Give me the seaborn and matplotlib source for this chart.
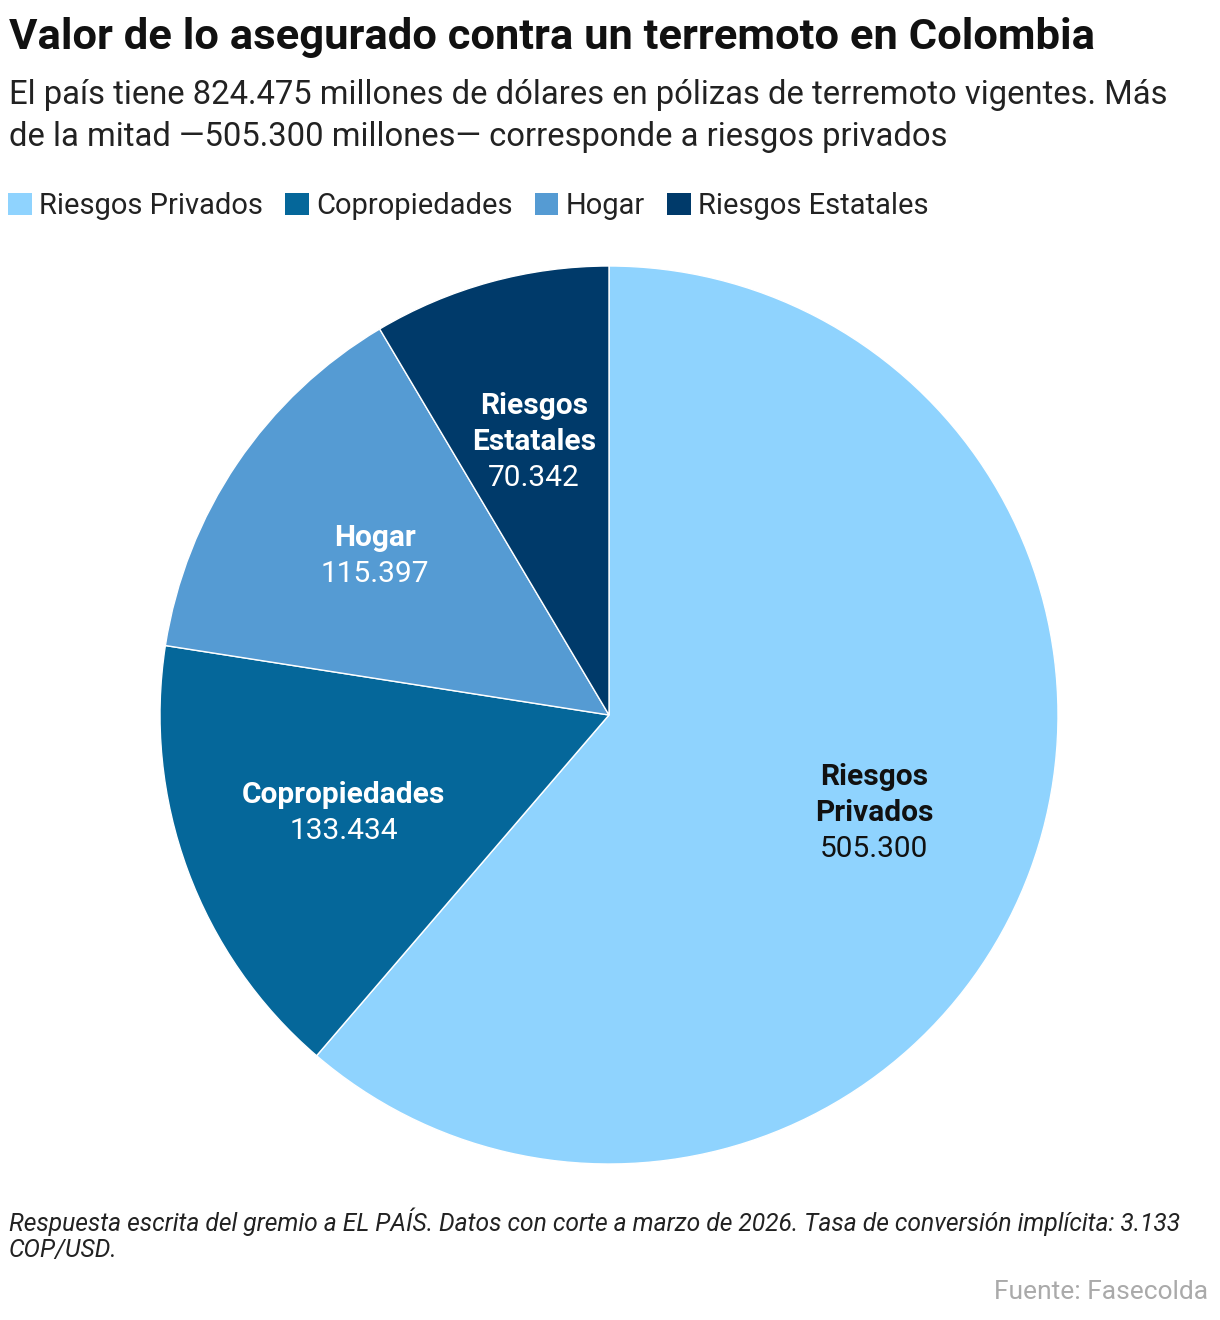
import matplotlib
matplotlib.use("Agg")
import matplotlib.pyplot as plt
import seaborn as sns
import numpy as np
from matplotlib.patches import Patch

sns.set_theme(style="white")
plt.rcParams['font.family'] = ['Roboto', 'DejaVu Sans']

categories = ["Riesgos Privados", "Copropiedades", "Hogar", "Riesgos Estatales"]
label_names = ["Riesgos\nPrivados", "Copropiedades", "Hogar", "Riesgos\nEstatales"]
values = [505300, 133434, 115397, 70342]
value_labels = ["505.300", "133.434", "115.397", "70.342"]
colors = ["#8fd3fe", "#05679a", "#559bd3", "#003a6a"]
label_colors = ["#111111", "white", "white", "white"]

fig = plt.figure(figsize=(12.2, 13.2), dpi=100)
W, H = 1220, 1320

def fx(px):
    return px / W

def fy(py):
    return 1 - py / H

# Titles
fig.text(fx(9), fy(38), "Valor de lo asegurado contra un terremoto en Colombia",
         fontsize=31.3, fontweight='bold', color='#111111', va='center', ha='left')
fig.text(fx(9), fy(95), "El país tiene 824.475 millones de dólares en pólizas de terremoto vigentes. Más",
         fontsize=23.6, color='#222222', va='center', ha='left')
fig.text(fx(9), fy(137), "de la mitad —505.300 millones— corresponde a riesgos privados",
         fontsize=23.6, color='#222222', va='center', ha='left')

# Pie axes
cx, cy, r = 609, 715, 449
ax = fig.add_axes([fx(cx - r), fy(cy + r), 2 * r / W, 2 * r / H])
wedges, _ = ax.pie(values, colors=colors, startangle=90, counterclock=False,
                   radius=1.0, wedgeprops=dict(edgecolor='white', linewidth=1))
ax.set_xlim(-1, 1)
ax.set_ylim(-1, 1)
ax.set_aspect('equal')
ax.axis('off')

line_h = 36  # px
for w, name, val, tc in zip(wedges, label_names, value_labels, label_colors):
    ang = np.deg2rad((w.theta1 + w.theta2) / 2)
    x, y = 0.63 * np.cos(ang), 0.63 * np.sin(ang)
    lines = name.split("\n")
    N = len(lines) + 1
    for i, ln in enumerate(lines):
        off = ((N - 1) / 2 - i) * line_h * 0.72
        ax.annotate(ln, (x, y), xytext=(0, off), textcoords='offset points',
                    ha='center', va='center', fontsize=21.5, fontweight='bold', color=tc)
    off = ((N - 1) / 2 - (N - 1)) * line_h * 0.72
    ax.annotate(val, (x, y), xytext=(0, off), textcoords='offset points',
                ha='center', va='center', fontsize=21.5, color=tc)

# Legend
handles = [Patch(facecolor=c, edgecolor='none') for c in colors]
leg = fig.legend(handles, categories, loc='upper left', bbox_to_anchor=(fx(8), fy(192)),
                 ncol=4, frameon=False, fontsize=21, handlelength=0.82, handleheight=0.82,
                 handletextpad=0.25, columnspacing=0.75, borderaxespad=0, borderpad=0)
for t in leg.get_texts():
    t.set_color('#222222')

# Footer
fig.text(fx(9), fy(1222), "Respuesta escrita del gremio a EL PAÍS. Datos con corte a marzo de 2026. Tasa de conversión implícita: 3.133",
         fontsize=17.7, style='italic', color='#222222', va='center', ha='left')
fig.text(fx(9), fy(1250), "COP/USD.",
         fontsize=17.7, style='italic', color='#222222', va='center', ha='left')
fig.text(fx(1208), fy(1292), "Fuente: Fasecolda",
         fontsize=19, color='#aaaaaa', va='center', ha='right')

fig.savefig("out.png", dpi=100, facecolor='white')
